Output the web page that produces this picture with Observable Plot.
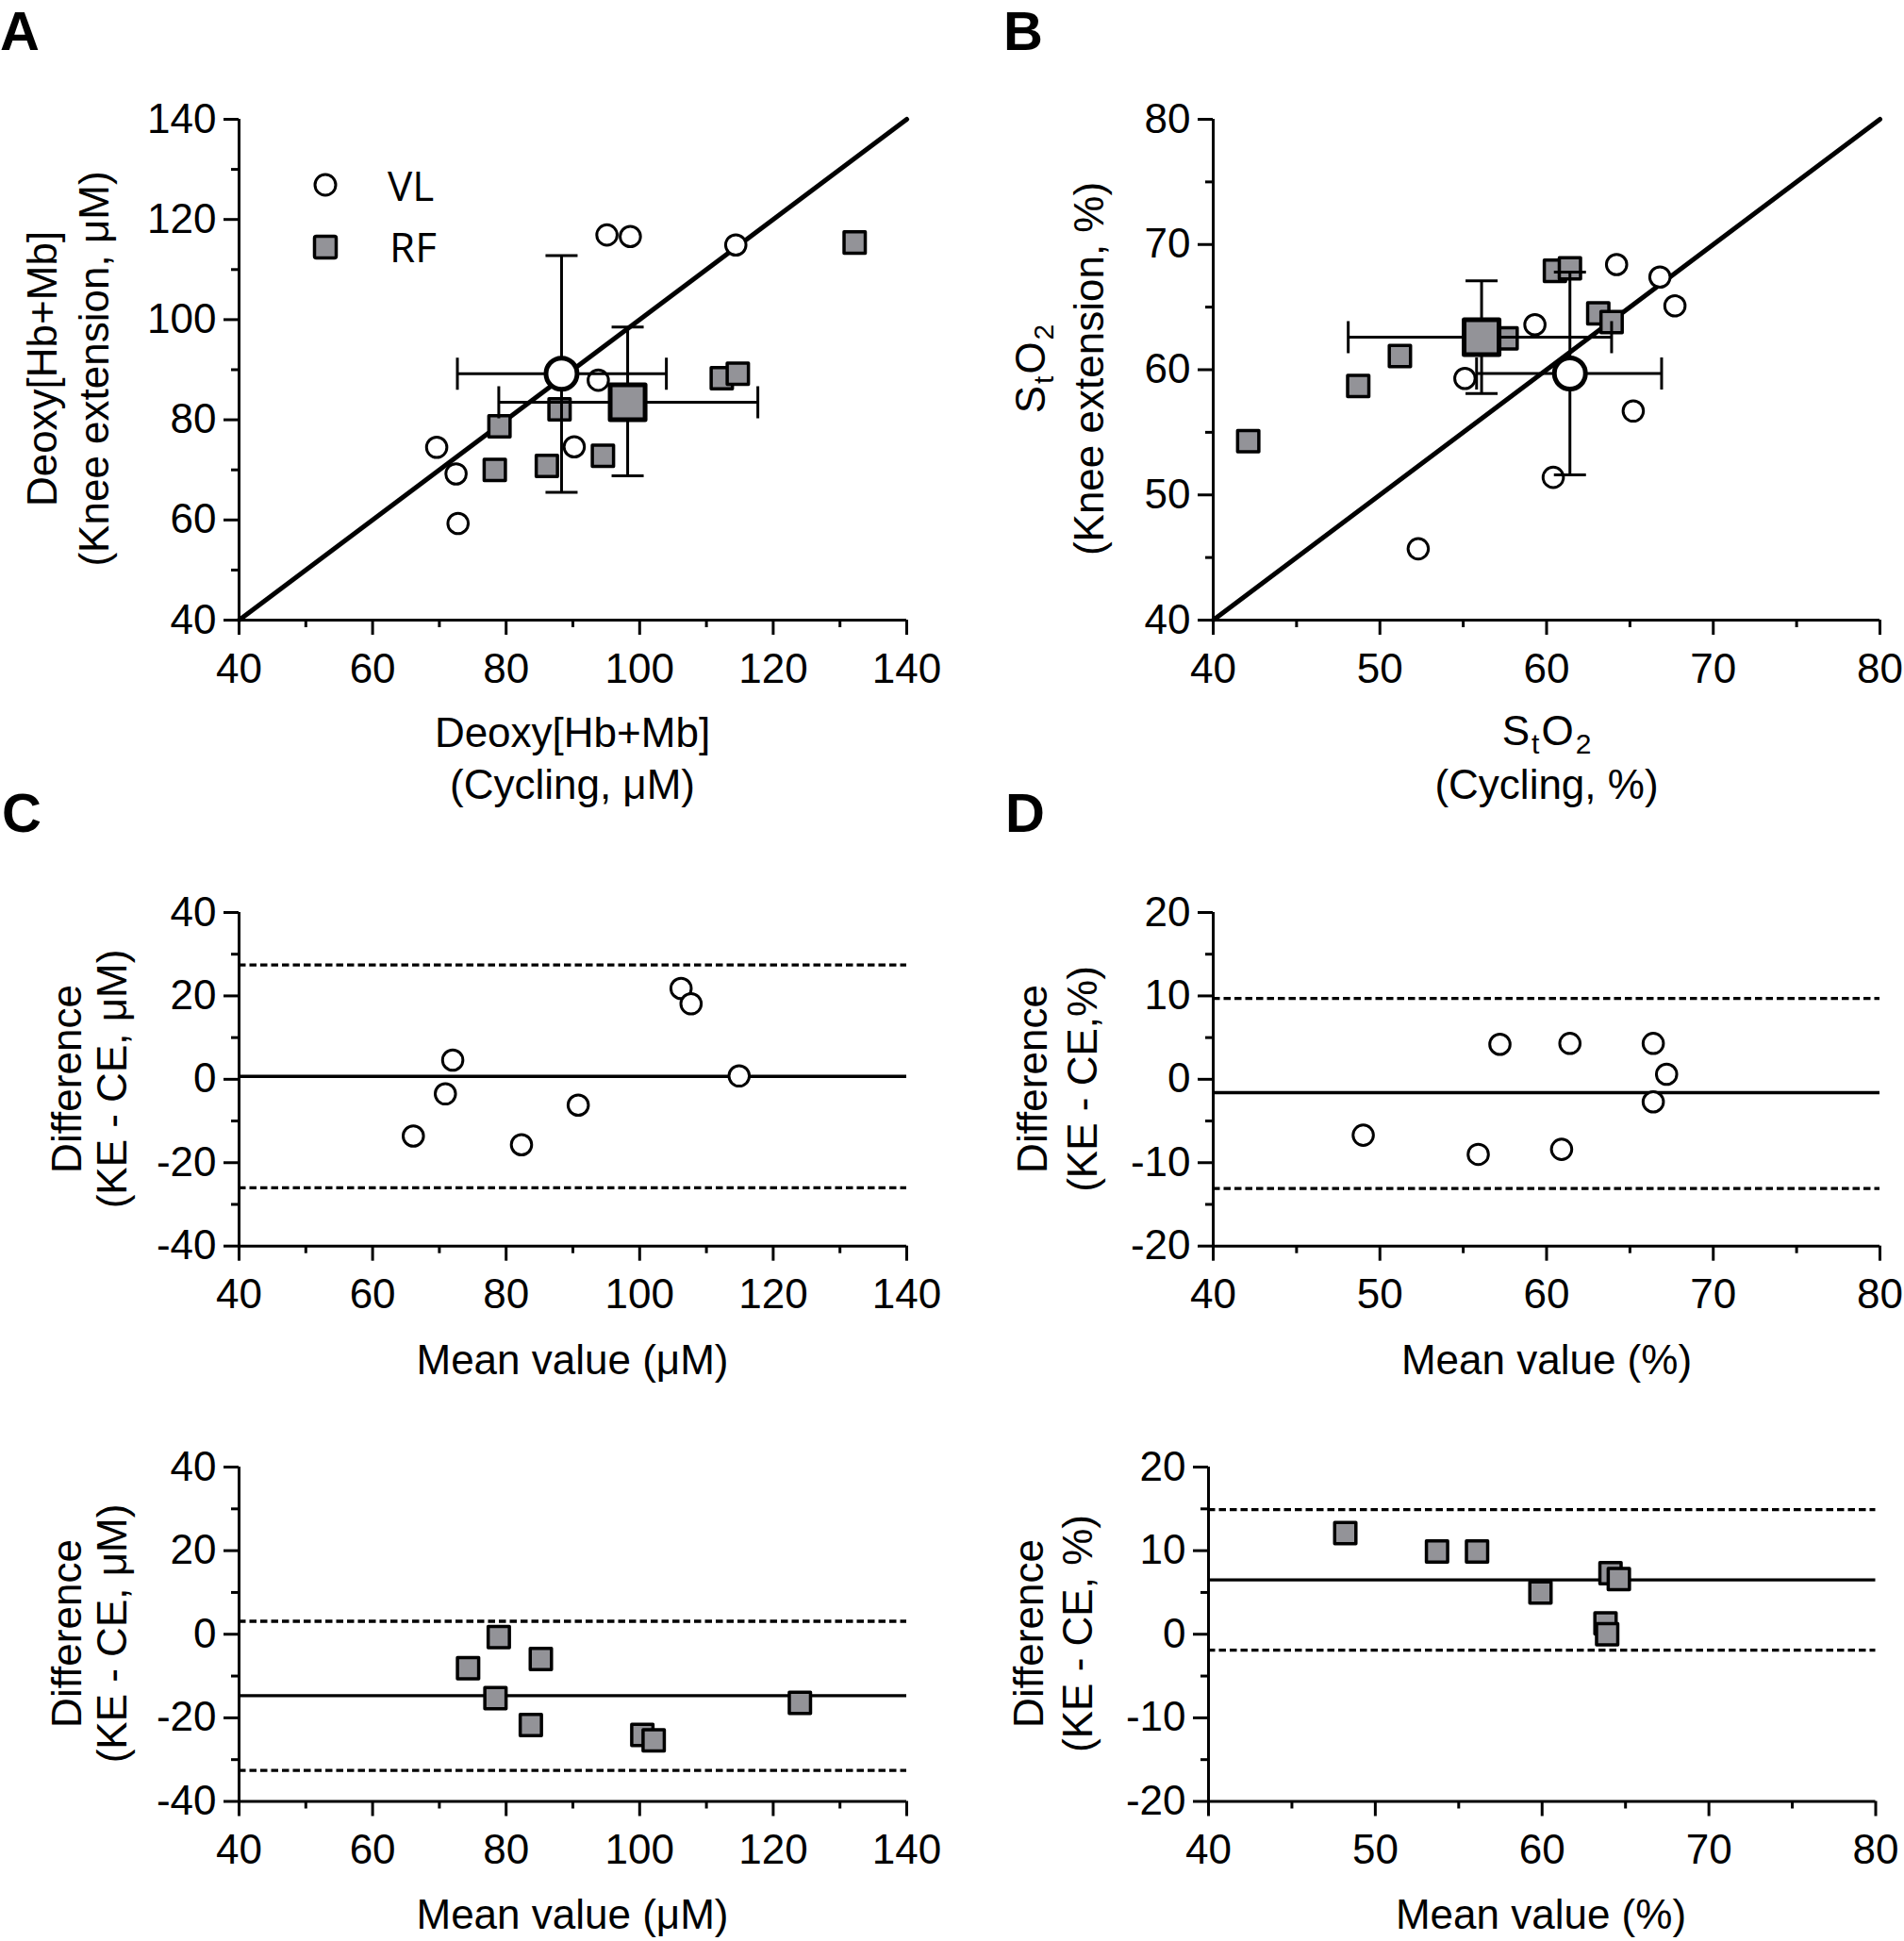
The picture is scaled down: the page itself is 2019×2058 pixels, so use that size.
<!DOCTYPE html>
<html><head><meta charset="utf-8">
<script src="https://cdn.jsdelivr.net/npm/d3@7"></script>
<script src="https://cdn.jsdelivr.net/npm/@observablehq/plot@0.6"></script>
<style>
body{margin:0;background:#fff;}
#fig{position:relative;width:2019px;height:2058px;background:#fff;overflow:hidden;}
</style></head><body><div id="fig"></div>
<script>
// ---------- DATA ----------
// Panel A: Deoxy[Hb+Mb] (µM), cycling (x) vs knee extension (y)
const deoxyVL_cycling = [69.6, 72.5, 72.8, 95.1, 98.6, 114.4, 93.8, 90.2];
const deoxyVL_knee    = [74.5, 69.2, 59.3, 116.9, 116.6, 114.9, 87.9, 74.6];
const deoxyRF_cycling = [79.0, 78.3, 88.0, 86.1, 94.5, 112.3, 114.7, 132.2];
const deoxyRF_knee    = [78.7, 70.0, 82.1, 70.8, 72.8, 88.3, 89.2, 115.4];
const groups = ["VL", "RF"];
const deoxyMeanX = [88.3, 98.2];
const deoxyMeanY = [89.2, 83.5];
const deoxyXlo = [72.7, 78.9], deoxyXhi = [104.0, 117.7];
const deoxyYlo = [65.5, 68.8], deoxyYhi = [112.8, 98.5];

// Panel B: StO2 (%), cycling (x) vs knee extension (y)
const stoVL_cycling = [52.3, 55.1, 59.3, 60.4, 64.2, 66.8, 67.7, 65.2];
const stoVL_knee    = [45.7, 59.3, 63.6, 51.4, 68.4, 67.4, 65.1, 56.7];
const stoRF_cycling = [42.1, 48.7, 51.2, 57.6, 60.5, 61.4, 63.1, 63.9];
const stoRF_knee    = [54.3, 58.7, 61.1, 62.5, 67.9, 68.1, 64.5, 63.8];
const stoMeanX = [61.4, 56.1];
const stoMeanY = [59.7, 62.6];
const stoXlo = [55.8, 48.1], stoXhi = [66.9, 63.9];
const stoYlo = [51.6, 58.1], stoYhi = [67.8, 67.1];

// Panel C (Bland-Altman, Deoxy[Hb+Mb])
const baDeoxyVL_mean = [66.1, 70.9, 72.0, 82.3, 90.8, 106.2, 107.7, 114.9];
const baDeoxyVL_diff = [-13.6, -3.5, 4.6, -15.7, -6.2, 21.8, 18.1, 0.8];
const baDeoxyVL_bias = [0.7];
const baDeoxyVL_loa  = [27.4, -26.0];
const baDeoxyRF_mean = [74.3, 78.9, 78.4, 85.2, 83.7, 100.4, 102.1, 124.0];
const baDeoxyRF_diff = [-8.1, -0.7, -15.3, -5.9, -21.7, -24.1, -25.4, -16.4];
const baDeoxyRF_bias = [-14.7];
const baDeoxyRF_loa  = [3.1, -32.6];

// Panel D (Bland-Altman, StO2)
const baStoVL_mean = [49.0, 55.9, 57.2, 60.9, 61.4, 66.4, 67.2, 66.4];
const baStoVL_diff = [-6.7, -9.0, 4.2, -8.4, 4.3, 4.3, 0.6, -2.7];
const baStoVL_bias = [-1.6];
const baStoVL_loa  = [9.7, -13.1];
const baStoRF_mean = [48.2, 53.7, 56.1, 59.9, 64.1, 64.6, 63.8, 63.9];
const baStoRF_diff = [12.1, 9.9, 9.9, 5.0, 7.3, 6.6, 1.3, 0.0];
const baStoRF_bias = [6.5];
const baStoRF_loa  = [14.9, -1.9];

// Ticks
const ticksDeoxy = [40, 60, 80, 100, 120, 140], minorDeoxy = [50, 70, 90, 110, 130];
const ticksSto = [40, 50, 60, 70, 80], minorSto = [45, 55, 65, 75];
const ticksDiffDeoxy = [-40, -20, 0, 20, 40], minorDiffDeoxy = [-30, -10, 10, 30];
const ticksDiffSto = [-20, -10, 0, 10, 20], minorDiffSto = [-15, -5, 5, 15];
const identityDeoxy = [40, 140];
const identitySto = [40, 80];

// ---------- LAYOUT ----------
const FONT = '"Liberation Sans", Arial, sans-serif';
const GRAY = "#939398";
const frames = {
  A:  {left: 253,    right: 961,  top: 125.5, bottom: 656.5},
  B:  {left: 1286,   right: 1993, top: 125.5, bottom: 656.5},
  C1: {left: 253,    right: 961,  top: 967.3, bottom: 1321},
  D1: {left: 1286,   right: 1993, top: 967.3, bottom: 1321},
  C2: {left: 253,    right: 961,  top: 1555,  bottom: 1909.5},
  D2: {left: 1280.5, right: 1988, top: 1555,  bottom: 1909.5}
};
const fmt = d => String(d);
const capH = {draw(ctx) { ctx.moveTo(-17, 0); ctx.lineTo(17, 0); }};
const capV = {draw(ctx) { ctx.moveTo(0, -17); ctx.lineTo(0, 17); }};
const fig = document.getElementById("fig");

const zip = (xs, ys) => xs.map((x, i) => ({x, y: ys[i]}));

function panel(key, xDomain, yDomain, xt, xm, yt, ym, marks) {
  const f = frames[key];
  const ml = 140, mr = 30, mt = 30, mb = 90;
  const w = f.right - f.left + ml + mr, h = f.bottom - f.top + mt + mb;
  const svg = Plot.plot({
    width: w, height: h,
    marginLeft: ml, marginRight: mr, marginTop: mt, marginBottom: mb,
    x: {domain: xDomain, label: null},
    y: {domain: yDomain, label: null},
    style: {fontFamily: FONT, fontSize: "44px", background: "transparent", overflow: "visible", color: "black"},
    marks: [
      Plot.axisX({ticks: xt, tickSize: 16, tickPadding: 19, tickFormat: fmt, fontSize: 44, fontFamily: FONT, strokeWidth: 3, label: null}),
      Plot.axisX({ticks: xm, tickSize: 8, tickFormat: () => "", strokeWidth: 3, label: null}),
      Plot.axisY({ticks: yt, tickSize: 16, tickPadding: 8, tickFormat: fmt, fontSize: 44, fontFamily: FONT, strokeWidth: 3, label: null}),
      Plot.axisY({ticks: ym, tickSize: 8, tickFormat: () => "", strokeWidth: 3, label: null}),
      Plot.ruleX([xDomain[0]], {stroke: "black", strokeWidth: 3}),
      Plot.ruleY([yDomain[0]], {stroke: "black", strokeWidth: 3}),
      ...marks
    ]
  });
  svg.style.position = "absolute";
  svg.style.left = (f.left - ml) + "px";
  svg.style.top = (f.top - mt) + "px";
  svg.style.maxWidth = "none";
  fig.appendChild(svg);
}

function scatterMarks(identity, vl, rf, mx, my, xlo, xhi, ylo, yhi) {
  const means = groups.map((g, i) => ({g, x: mx[i], y: my[i], xlo: xlo[i], xhi: xhi[i], ylo: ylo[i], yhi: yhi[i]}));
  const bar = {stroke: "black", strokeWidth: 3};
  return [
    Plot.line(identity, {x: d => d, y: d => d, stroke: "black", strokeWidth: 5}),
    Plot.dot(vl, {x: "x", y: "y", r: 10.8, symbol: "circle", fill: "white", stroke: "black", strokeWidth: 3}),
    Plot.dot(rf, {x: "x", y: "y", r: 12.7, symbol: "square", fill: GRAY, stroke: "black", strokeWidth: 3.5, strokeLinejoin: "round"}),
    Plot.ruleY(means, {y: "y", x1: "xlo", x2: "xhi", ...bar}),
    Plot.ruleX(means, {x: "x", y1: "ylo", y2: "yhi", ...bar}),
    Plot.dot(means, {x: "xlo", y: "y", symbol: capV, fill: "none", ...bar}),
    Plot.dot(means, {x: "xhi", y: "y", symbol: capV, fill: "none", ...bar}),
    Plot.dot(means, {x: "x", y: "ylo", symbol: capH, fill: "none", ...bar}),
    Plot.dot(means, {x: "x", y: "yhi", symbol: capH, fill: "none", ...bar}),
    Plot.dot(means.filter(d => d.g === "VL"), {x: "x", y: "y", r: 16.5, symbol: "circle", fill: "white", stroke: "black", strokeWidth: 5}),
    Plot.dot(means.filter(d => d.g === "RF"), {x: "x", y: "y", r: 20.9, symbol: "square", fill: GRAY, stroke: "black", strokeWidth: 5, strokeLinejoin: "round"})
  ];
}

function baMarks(pts, bias, loa, isRF) {
  return [
    Plot.ruleY(bias, {stroke: "black", strokeWidth: 3.3}),
    Plot.ruleY(loa, {stroke: "black", strokeWidth: 3.3, strokeDasharray: "7.5,4"}),
    isRF
      ? Plot.dot(pts, {x: "x", y: "y", r: 12.7, symbol: "square", fill: GRAY, stroke: "black", strokeWidth: 3.5, strokeLinejoin: "round"})
      : Plot.dot(pts, {x: "x", y: "y", r: 10.8, symbol: "circle", fill: "white", stroke: "black", strokeWidth: 3})
  ];
}

panel("A", [40, 140], [40, 140], ticksDeoxy, minorDeoxy, ticksDeoxy, minorDeoxy,
  scatterMarks(identityDeoxy, zip(deoxyVL_cycling, deoxyVL_knee), zip(deoxyRF_cycling, deoxyRF_knee),
    deoxyMeanX, deoxyMeanY, deoxyXlo, deoxyXhi, deoxyYlo, deoxyYhi));
panel("B", [40, 80], [40, 80], ticksSto, minorSto, ticksSto, minorSto,
  scatterMarks(identitySto, zip(stoVL_cycling, stoVL_knee), zip(stoRF_cycling, stoRF_knee),
    stoMeanX, stoMeanY, stoXlo, stoXhi, stoYlo, stoYhi));
panel("C1", [40, 140], [-40, 40], ticksDeoxy, minorDeoxy, ticksDiffDeoxy, minorDiffDeoxy,
  baMarks(zip(baDeoxyVL_mean, baDeoxyVL_diff), baDeoxyVL_bias, baDeoxyVL_loa, false));
panel("D1", [40, 80], [-20, 20], ticksSto, minorSto, ticksDiffSto, minorDiffSto,
  baMarks(zip(baStoVL_mean, baStoVL_diff), baStoVL_bias, baStoVL_loa, false));
panel("C2", [40, 140], [-40, 40], ticksDeoxy, minorDeoxy, ticksDiffDeoxy, minorDiffDeoxy,
  baMarks(zip(baDeoxyRF_mean, baDeoxyRF_diff), baDeoxyRF_bias, baDeoxyRF_loa, true));
panel("D2", [40, 80], [-20, 20], ticksSto, minorSto, ticksDiffSto, minorDiffSto,
  baMarks(zip(baStoRF_mean, baStoRF_diff), baStoRF_bias, baStoRF_loa, true));

// ---------- TEXT OVERLAY (titles, panel letters, legend) ----------
const sto = () => `S<tspan dx="2" dy="9" font-size="30">t</tspan><tspan dx="2" dy="-9">O</tspan><tspan dx="2" dy="9" font-size="30">2</tspan>`;
const hx = (x, y, t) => `<text x="${x}" y="${y}" text-anchor="middle">${t}</text>`;
const vy = (x, y, t) => `<text transform="translate(${x},${y}) rotate(-90)" text-anchor="middle">${t}</text>`;
const overlay = `
<svg width="2019" height="2058" style="position:absolute;left:0;top:0" font-family='${FONT}' font-size="44" fill="black">
  <g font-weight="bold" font-size="58">
    <text x="0" y="53">A</text>
    <text x="1064" y="53">B</text>
    <text x="2" y="882">C</text>
    <text x="1066" y="882">D</text>
  </g>
  ${hx(607, 792, "Deoxy[Hb+Mb]")}
  ${hx(607, 847, "(Cycling, μM)")}
  ${vy(60, 391, "Deoxy[Hb+Mb]")}
  ${vy(115, 391, "(Knee extension, μM)")}
  ${hx(1640, 790, sto())}
  ${hx(1640, 847, "(Cycling, %)")}
  ${vy(1108, 391, sto())}
  ${vy(1170, 391, "(Knee extension, %)")}
  ${vy(86, 1144, "Difference")}
  ${vy(134, 1144, "(KE - CE, μM)")}
  ${hx(607, 1457, "Mean value (μM)")}
  ${vy(1110, 1144, "Difference")}
  ${vy(1163, 1144, "(KE - CE,%)")}
  ${hx(1640, 1457, "Mean value (%)")}
  ${vy(86, 1732, "Difference")}
  ${vy(134, 1732, "(KE - CE, μM)")}
  ${hx(607, 2045, "Mean value (μM)")}
  ${vy(1106, 1732, "Difference")}
  ${vy(1158, 1732, "(KE - CE, %)")}
  ${hx(1634, 2045, "Mean value (%)")}
  <g font-family='"Open Sans", sans-serif' font-size="44">
    <circle cx="345" cy="196" r="11" fill="white" stroke="black" stroke-width="3"/>
    <text x="411" y="213">VL</text>
    <rect x="333.5" y="250.5" width="23" height="23" rx="2" fill="${GRAY}" stroke="black" stroke-width="3.5"/>
    <text x="413" y="278">RF</text>
  </g>
</svg>`;
fig.insertAdjacentHTML("beforeend", overlay);
</script></body></html>
